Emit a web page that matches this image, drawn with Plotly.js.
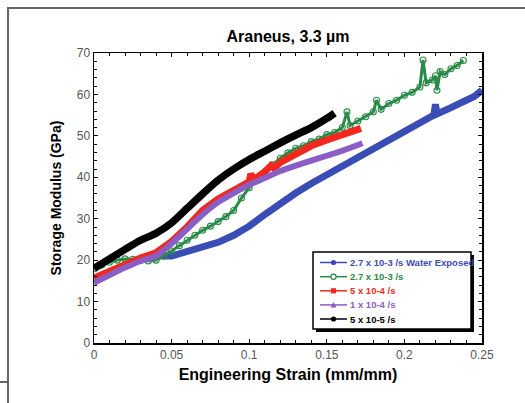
<!DOCTYPE html>
<html>
<head>
<meta charset="utf-8">
<script src="https://cdn.plot.ly/plotly-3.0.1.min.js"></script>
<style>
  html, body { margin: 0; padding: 0; background: #fff; }
  #wrap { position: relative; width: 525px; height: 403px; overflow: hidden; }
  #chart { position: absolute; left: 0; top: 0; width: 525px; height: 403px; }
  .fr { position: absolute; background: #666; }
</style>
</head>
<body>
<div id="wrap">
  <div id="chart"></div>
  <div class="fr" style="left:7px; top:7px; width:2px; height:396px;"></div>
  <div class="fr" style="left:7px; top:7px; width:518px; height:2px;"></div>
  <div class="fr" style="left:0px; top:381px; width:8px; height:2px;"></div>
</div>
<script>
// ---- Data ----
const seriesNames = [
  "2.7 x 10-3 /s Water Exposed",
  "2.7 x 10-3 /s",
  "5 x 10-4 /s",
  "1 x 10-4 /s",
  "5 x 10-5 /s"
];
const seriesColors = ["#3a4db5", "#2a8a48", "#f0281e", "#8a5ec4", "#000000"];

const strainWater = [0.03, 0.04, 0.05, 0.06, 0.07, 0.08, 0.09, 0.10, 0.11, 0.12, 0.13, 0.14, 0.15, 0.16, 0.17, 0.18, 0.19, 0.20, 0.21, 0.219, 0.22, 0.221, 0.23, 0.24, 0.245, 0.25];
const modWater    = [20.5, 21.0, 21.0, 22.0, 23.2, 24.3, 26.0, 28.2, 31.0, 33.8, 36.2, 38.5, 40.6, 42.6, 44.6, 46.6, 48.6, 50.8, 53.0, 55.0, 57.6, 55.3, 56.8, 58.3, 59.5, 61.0];

const strainFast = [0, 0.005, 0.01, 0.015, 0.02, 0.025, 0.03, 0.035, 0.04, 0.045, 0.05, 0.055, 0.06, 0.065, 0.07, 0.075, 0.08, 0.085, 0.09, 0.095, 0.10, 0.105, 0.11, 0.115, 0.12, 0.125,
  0.13, 0.135, 0.14, 0.145, 0.15, 0.155, 0.16, 0.163, 0.165, 0.17, 0.175, 0.18, 0.182, 0.185, 0.19, 0.195, 0.20, 0.205, 0.21, 0.212, 0.214, 0.218, 0.22, 0.221, 0.223, 0.226, 0.23, 0.234, 0.238];
const modFast    = [18.0, 18.8, 19.5, 20.0, 20.3, 20.2, 20.0, 19.8, 20.0, 21.0, 22.2, 23.5, 24.8, 26.0, 27.2, 28.2, 29.3, 30.5, 32.0, 35.0, 37.5, 39.5, 41.3, 43.0, 44.6, 45.9,
  47.0, 47.6, 48.6, 49.2, 50.3, 50.8, 52.0, 55.8, 52.5, 53.6, 54.6, 55.8, 58.6, 56.4, 57.8, 58.6, 59.8, 60.5, 61.8, 68.3, 62.8, 63.5, 64.5, 61.0, 65.5, 64.8, 66.2, 67.0, 68.2];

const strainMid = [0, 0.01, 0.02, 0.03, 0.04, 0.05, 0.06, 0.07, 0.08, 0.09, 0.10, 0.101, 0.103, 0.11, 0.114, 0.116, 0.12, 0.13, 0.14, 0.15, 0.16, 0.172];
const modMid    = [15.7, 17.4, 19.0, 20.5, 21.8, 24.5, 28.0, 32.0, 34.8, 36.8, 38.9, 40.8, 39.4, 41.3, 42.8, 42.2, 43.6, 45.6, 47.6, 49.0, 50.3, 51.8];

const strainSlow = [0, 0.01, 0.02, 0.03, 0.04, 0.05, 0.06, 0.07, 0.08, 0.09, 0.10, 0.11, 0.12, 0.13, 0.14, 0.15, 0.16, 0.173];
const modSlow    = [14.5, 16.4, 18.2, 19.8, 21.0, 24.0, 27.5, 31.0, 34.0, 36.2, 38.2, 39.8, 41.5, 42.8, 44.0, 45.2, 46.4, 48.2];

const strainSlowest = [0, 0.01, 0.02, 0.03, 0.04, 0.05, 0.06, 0.07, 0.08, 0.09, 0.10, 0.11, 0.12, 0.13, 0.14, 0.15, 0.155];
const modSlowest    = [18.0, 20.3, 22.6, 24.8, 26.5, 29.0, 32.5, 36.0, 39.3, 42.0, 44.3, 46.3, 48.3, 50.2, 52.0, 54.2, 55.5];

const xTickVals = [0, 0.05, 0.1, 0.15, 0.2, 0.25];
const xTickText = ["0", "0.05", "0.1", "0.15", "0.2", "0.25"];
const yTickVals = [0, 10, 20, 30, 40, 50, 60, 70];

// ---- Layout constants (pixels) ----
const W = 525, H = 403;
const M = {l: 94, r: 43, t: 53, b: 60};
const PW = W - M.l - M.r, PH = H - M.t - M.b;
const px = x => (x - M.l) / PW;      // pixel -> paper x
const py = y => (H - M.b - y) / PH;  // pixel -> paper y

const lineWidths = [7, 3, 7, 6, 7.5];
const lineShapes = ["linear", "linear", "linear", "spline", "spline"];
const markerSym = ["circle", "circle-open", "square", "triangle-up", "circle"];

const xs = [strainWater, strainFast, strainMid, strainSlow, strainSlowest];
const ys = [modWater, modFast, modMid, modSlow, modSlowest];

const traces = xs.map((x, i) => ({
  type: "scatter",
  mode: i === 1 ? "lines+markers" : "lines",
  x: x, y: ys[i],
  name: seriesNames[i],
  showlegend: false,
  line: {color: seriesColors[i], width: lineWidths[i], shape: lineShapes[i], smoothing: 0.6},
  marker: {symbol: "circle-open", size: 6, color: seriesColors[i], line: {width: 1.1}}
}));

// ---- Custom legend (shapes + annotations) ----
const shapes = [];
const annotations = [];
const LB = {x0: 313, y0: 252, x1: 471, y1: 329};
shapes.push({type: "rect", xref: "paper", yref: "paper", layer: "above",
  x0: px(LB.x0 + 3), x1: px(LB.x1 + 3), y0: py(LB.y1 + 3), y1: py(LB.y0 + 3),
  fillcolor: "#000", line: {width: 0}});
shapes.push({type: "rect", xref: "paper", yref: "paper", layer: "above",
  x0: px(LB.x0), x1: px(LB.x1), y0: py(LB.y1), y1: py(LB.y0),
  fillcolor: "#fff", line: {color: "#000", width: 1.5}});
const rowY = [262.5, 276.7, 290.8, 304.9, 319.0];
seriesNames.forEach((nm, i) => {
  const yy = rowY[i];
  shapes.push({type: "line", xref: "paper", yref: "paper", layer: "above",
    x0: px(320), x1: px(347), y0: py(yy), y1: py(yy),
    line: {color: seriesColors[i], width: 1.5}});
  const c = 333.5, r = 2.6;
  if (markerSym[i] === "square") {
    shapes.push({type: "rect", xref: "paper", yref: "paper", layer: "above",
      x0: px(c - r), x1: px(c + r), y0: py(yy + r), y1: py(yy - r),
      fillcolor: seriesColors[i], line: {width: 0}});
  } else if (markerSym[i] === "triangle-up") {
    shapes.push({type: "path", xref: "paper", yref: "paper", layer: "above",
      path: `M ${px(c - 3)} ${py(yy + 2.5)} L ${px(c + 3)} ${py(yy + 2.5)} L ${px(c)} ${py(yy - 3)} Z`,
      fillcolor: seriesColors[i], line: {width: 0}});
  } else {
    const open = markerSym[i] === "circle-open";
    shapes.push({type: "circle", xref: "paper", yref: "paper", layer: "above",
      x0: px(c - r), x1: px(c + r), y0: py(yy + r), y1: py(yy - r),
      fillcolor: open ? "#fff" : seriesColors[i],
      line: {color: seriesColors[i], width: open ? 1.2 : 0}});
  }
  annotations.push({xref: "paper", yref: "paper", x: px(348), y: py(yy),
    xanchor: "left", yanchor: "middle", showarrow: false, text: "<b>" + nm + "</b>",
    font: {family: "Liberation Sans, Arial", size: 9.5, color: seriesColors[i]}});
});

const axisCommon = {
  showline: true, linecolor: "#000", linewidth: 1.5, mirror: "ticks",
  ticks: "inside", ticklen: 4, tickwidth: 1, tickcolor: "#000",
  showgrid: false, zeroline: false,
  tickfont: {family: "Liberation Sans, Arial", size: 12, color: "#555"}
};

const layout = {
  width: W, height: H,
  margin: M,
  paper_bgcolor: "rgba(0,0,0,0)",
  plot_bgcolor: "#fff",
  showlegend: false,
  title: {text: "<b>Araneus, 3.3 µm</b>", x: 0.5, xref: "paper", y: 1 - 36 / H, yanchor: "middle",
    font: {family: "Liberation Sans, Arial", size: 16, color: "#000"}},
  xaxis: Object.assign({}, axisCommon, {
    range: [0, 0.25], tickvals: xTickVals, ticktext: xTickText,
    minor: {dtick: 0.01, tick0: 0, ticks: "inside", ticklen: 3, tickcolor: "#000", showgrid: false},
    title: {text: "<b>Engineering Strain (mm/mm)</b>", standoff: 8,
      font: {family: "Liberation Sans, Arial", size: 16, color: "#000"}}
  }),
  yaxis: Object.assign({}, axisCommon, {
    range: [0, 70], tickvals: yTickVals,
    minor: {dtick: 2, tick0: 0, ticks: "inside", ticklen: 3, tickcolor: "#000", showgrid: false},
    title: {text: "<b>Storage Modulus (GPa)</b>", standoff: 12,
      font: {family: "Liberation Sans, Arial", size: 14, color: "#000"}}
  }),
  shapes: shapes,
  annotations: annotations
};

Plotly.newPlot("chart", traces, layout, {staticPlot: true, displayModeBar: false});
</script>
</body>
</html>
